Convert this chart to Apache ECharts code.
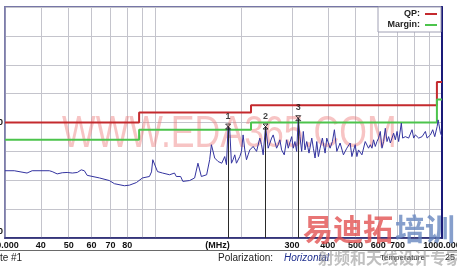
<!DOCTYPE html>
<html><head><meta charset="utf-8">
<script src="https://cdn.jsdelivr.net/npm/echarts@6/dist/echarts.min.js"></script>
<style>html,body{margin:0;padding:0;background:#fff;overflow:hidden}#c{width:457px;height:267px}</style>
</head><body><div id="c"></div>
<script>
const traceFreq = [30,32.3,35.8,37.3,42.8,43.8,45.6,47.5,49.4,51.5,53.6,55.3,56.7,58.0,64.0,69.3,72.2,78.2,81.4,86.1,90.4,95.6,97.2,98.2,99.6,102.0,106.2,112.4,116.9,118.6,122.8,125.0,132.0,137.4,141.1,143.1,145.0,151.3,155.0,157.2,159.2,161.4,165.8,170.8,174.9,177.4,179.7,182.1,184.6,187.0,189.6,192.2,197.4,200.1,202.7,205.5,208.3,211.0,213.9,219.7,225.8,231.8,235.0,238.1,242.7,247.9,254.8,258.1,265.2,268.7,272.3,276.1,282.0,287.5,291.2,299.3,303.1,307.3,311.5,315.6,319.9,324.3,328.6,333.1,337.7,344.0,351.7,356.2,361.1,366.1,370.9,375.9,382.9,391.4,396.7,407.4,415.0,421.7,430.0,441.5,453.4,465.9,472.1,478.6,485.2,498.3,505.1,511.7,518.8,526.0,540.1,554.7,562.3,570.1,577.5,585.4,593.5,601.1,609.4,617.8,625.8,634.5,643.2,651.6,660.6,678.4,687.7,697.2,706.2,721.6,729.3,745.3,765.3,786.4,796.7,807.7,829.4,852.3,875.2,887.3,911.2,928.3,943.4,961.8,969.5,987.8,1000];
const traceLevel = [23.3,23.3,22.5,23.3,23.3,23.0,22.2,22.6,22.7,22.5,22.7,23.6,23.3,21.7,20.8,19.9,18.8,18.1,18.3,19.2,20.8,21.3,22.9,27.1,27.3,23.0,22.5,21.9,22.5,21.3,21.3,19.6,19.9,20.8,25.9,25.9,21.3,21.9,27.1,32.3,32.3,27.7,26.5,25.9,28.2,25.4,38.6,37.5,25.9,27.1,28.8,25.9,28.2,30.0,35.7,30.5,27.1,28.8,30.5,31.7,30.0,34.6,32.3,28.8,38.6,31.1,34.6,35.7,31.1,32.3,34.0,30.5,28.8,34.0,31.1,35.1,31.1,33.4,30.0,41.5,35.1,30.0,36.9,30.5,33.4,29.4,34.6,31.1,27.7,33.4,28.2,31.1,34.6,29.4,34.6,31.1,33.4,37.5,30.0,32.9,28.8,31.1,31.1,32.9,28.2,32.3,28.2,30.5,31.1,28.8,33.4,31.1,32.3,31.1,34.0,31.7,33.4,34.6,36.9,31.1,33.4,38.0,33.4,35.1,32.9,36.3,34.0,36.9,33.4,39.8,34.6,35.1,34.6,37.5,34.6,35.7,34.6,35.1,36.9,34.6,35.7,37.5,35.1,38.6,40.9,36.3,35.1];
const limitFreq = [30,88,88,216,216,960,960,1000];
const qpLevel = [40,40,43.5,43.5,46,46,54,54];
const marginLevel = [34,34,37.5,37.5,40,40,48,48];
const markerFreq = [179.7,242.7,315.6];
const markerLevel = [38.6,38.6,41.5];
const markerNames = ['1','2','3'];
const xGridValues = [30,40,50,60,70,80,90,100,200,300,400,500,600,700,800,900,1000];
const xLabelValues = [30,40,50,60,70,80,300,400,500,600,700,1000];
const yLabelValues = [0,40];

const chart = echarts.init(document.getElementById('c'), null, {renderer:'canvas'});
const pairs = (xs, ys) => xs.map((x, i) => [x, ys[i]]);
const narrow = '"Liberation Sans Narrow","Arial Narrow","Liberation Sans",sans-serif';
const axisFont = {fontFamily: narrow, fontWeight: 'bold', fontSize: 9, color: '#111'};

const option = {
  animation: false,
  backgroundColor: '#fff',
  grid: {left: 5, right: 15, top: 7, bottom: 29, show: true, borderColor: '#7676a6', borderWidth: 2,
         backgroundColor: '#fff', containLabel: false, outerBoundsMode: 'none'},
  xAxis: {
    type: 'log', logBase: 10, min: 30, max: 1000,
    name: '(MHz)', nameLocation: 'middle', nameGap: 3, nameMoveOverlap: false,
    nameTextStyle: Object.assign({}, axisFont, {verticalAlign: 'top', padding: [0, 12, 0, 0]}),
    axisLine: {show: true, lineStyle: {color: '#20206e', width: 1.5}},
    axisTick: {show: false, customValues: xGridValues},
    axisLabel: Object.assign({customValues: xLabelValues, margin: 3, hideOverlap: false,
      formatter: v => { const r = Math.round(v); return (r === 30 || r === 1000) ? r.toFixed(3) : String(r); }}, axisFont),
    splitLine: {show: true, lineStyle: {color: '#c4c4cc', width: 1}}
  },
  yAxis: [{
    type: 'value', min: 0, max: 80, interval: 10,
    axisLine: {show: true, lineStyle: {color: '#8080ac', width: 1.5}},
    axisTick: {show: false},
    axisLabel: Object.assign({customValues: yLabelValues, margin: 2,
      formatter: v => v === 0 ? '{z|0}' : String(v),
      rich: {z: Object.assign({padding: [0, 0, 13, 0]}, axisFont)}}, axisFont),
    splitLine: {show: true, lineStyle: {color: '#c4c4cc', width: 1}}
  }, {
    type: 'value', position: 'right', min: 0, max: 80, interval: 10,
    axisLine: {show: true, lineStyle: {color: '#1a1a78', width: 2}},
    axisTick: {show: false}, axisLabel: {show: false}, splitLine: {show: false}
  }],
  legend: {
    data: ['QP:', 'Margin:'], orient: 'vertical', right: 16, top: 7, align: 'right',
    icon: 'rect', itemWidth: 12, itemHeight: 2, itemGap: 1, padding: [2, 4, 2, 4],
    backgroundColor: '#fff', borderColor: '#a0a0b4', borderWidth: 1,
    textStyle: {fontFamily: '"Liberation Sans",Arial,sans-serif', fontWeight: 'bold', fontSize: 9, color: '#222', width: 38, lineHeight: 10}
  },
  series: [
    {name: 'QP:', type: 'line', data: pairs(limitFreq, qpLevel), symbol: 'none', color: '#c42a2e',
     lineStyle: {color: '#c42a2e', width: 2}, z: 3},
    {name: 'Margin:', type: 'line', data: pairs(limitFreq, marginLevel), symbol: 'none', color: '#4cc44c',
     lineStyle: {color: '#4cc44c', width: 2}, z: 3},
    {name: 'Trace', type: 'line', data: pairs(traceFreq, traceLevel), symbol: 'none', color: '#3434a0',
     lineStyle: {color: '#3434a0', width: 1}, z: 4},
    {name: 'Markers', type: 'scatter', data: pairs(markerFreq, markerLevel),
     symbol: 'path://M0,0L8,8M8,0L0,8M0,0L8,0M0,8L8,8', symbolSize: 5,
     itemStyle: {color: 'none', borderColor: '#1a1a1a', borderWidth: 1}, z: 5,
     label: {show: true, position: 'top', distance: 1, formatter: p => markerNames[p.dataIndex],
       fontFamily: '"Liberation Sans",Arial,sans-serif', fontWeight: 'bold', fontSize: 9, color: '#111'},
     markLine: {silent: true, symbol: ['none', 'none'], label: {show: false},
       lineStyle: {color: '#2a2a2a', width: 1, type: 'solid'},
       data: markerFreq.map((f, i) => [{coord: [f, 0]}, {coord: [f, markerLevel[i]]}])}}
  ],
  graphic: [
    {type: 'text', x: 62, y: 135, scaleX: 0.81, z: 1, silent: true,
     style: {text: 'WWW.EDA365.COM', font: '44px "Liberation Sans",Arial,sans-serif', fill: 'rgba(238,124,124,0.45)', verticalAlign: 'middle'}},
    {type: 'line', shape: {x1: 0, y1: 250.5, x2: 457, y2: 250.5}, style: {stroke: '#6a6a6a', lineWidth: 1}, z: 1},
    {type: 'text', x: 18, y: -2, style: {text: 'dBuV/m', font: 'bold 9px "Liberation Sans",Arial', fill: '#222', verticalAlign: 'middle'}},
    {type: 'text', x: -9, y: 258, style: {text: 'Site #1', font: '10px "Liberation Sans",Arial', fill: '#222', verticalAlign: 'middle'}},
    {type: 'text', x: 218, y: 258, style: {text: 'Polarization:', font: '10px "Liberation Sans",Arial', fill: '#222', verticalAlign: 'middle'}},
    {type: 'text', x: 284, y: 258, style: {text: 'Horizontal', font: 'italic 10px "Liberation Sans",Arial', fill: '#1e2e8e', verticalAlign: 'middle'}},
    {type: 'text', x: 380, y: 258, style: {text: 'Temperature', font: '8px "Liberation Sans",Arial', fill: '#222', verticalAlign: 'middle'}},
    {type: 'text', x: 445, y: 258, style: {text: '25', font: '9px "Liberation Sans",Arial', fill: '#222', verticalAlign: 'middle'}},
    {type: 'text', x: 303, y: 229, z: 10, silent: true,
     style: {text: '易迪拓', font: 'bold 30px "Noto Sans CJK SC"', fill: 'rgba(226,78,78,0.78)', verticalAlign: 'middle'}},
    {type: 'text', x: 395, y: 229, z: 10, silent: true,
     style: {text: '培训', font: 'bold 30px "Noto Sans CJK SC"', fill: 'rgba(100,132,190,0.78)', verticalAlign: 'middle'}},
    {type: 'text', x: 318, y: 258, z: 10, silent: true,
     style: {text: '射频和天线设计专家', font: 'bold 16px "Noto Sans CJK SC"', fill: 'rgba(140,140,140,0.55)', verticalAlign: 'middle'}}
  ]
};
chart.setOption(option);
</script>
</body></html>
